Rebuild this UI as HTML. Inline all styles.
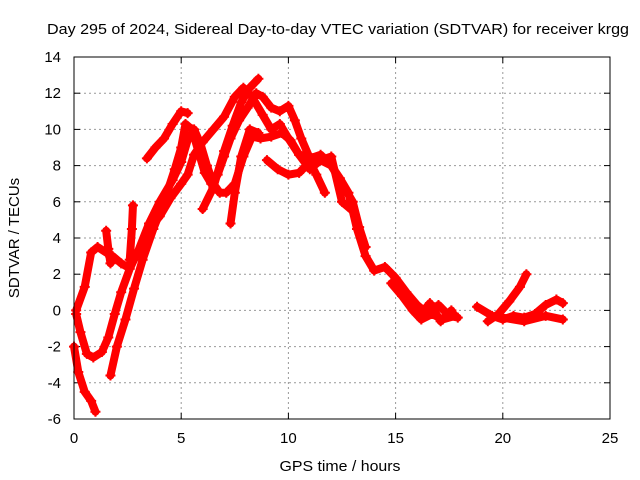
<!DOCTYPE html>
<html><head><meta charset="utf-8"><style>
body{margin:0;background:#fff}
svg{display:block;font-family:"Liberation Sans",sans-serif}
</style></head><body>
<svg id="chart" width="640" height="480">
<text x="338" y="34" font-size="15" text-anchor="middle" textLength="582" lengthAdjust="spacingAndGlyphs">Day 295 of 2024, Sidereal Day-to-day VTEC variation (SDTVAR) for receiver krgg</text>
<text x="340" y="471" font-size="15" text-anchor="middle" textLength="121" lengthAdjust="spacingAndGlyphs">GPS time / hours</text>
<text transform="translate(19,238) rotate(-90)" font-size="15" text-anchor="middle">SDTVAR / TECUs</text>
<g id="grid"></g><g id="axes"></g><g id="marks"></g>
<rect x="74" y="57" width="536" height="362" fill="none" stroke="#000" stroke-width="1"/>
</svg>
<script>
const xTicks=[0,5,10,15,20,25];
const yTicks=[-6,-4,-2,0,2,4,6,8,10,12,14];
const trackA=[[0.1,0],[0.5,1.3],[0.8,3.2],[1.1,3.5],[1.5,3.2],[1.8,3],[2.2,2.6],[2.5,2.4],[3.0,3.2],[3.5,4.5],[4.0,5.2],[4.5,6.2],[5.0,7.0],[5.3,7.5],[5.6,8.6],[6.0,9.3],[6.5,10],[7.0,10.7],[7.5,11.8],[7.9,12.3],[8.3,11.8],[8.8,10.8],[9.2,10],[9.6,10.3],[10.0,9.5],[10.5,8.6],[11.0,8.5],[11.5,8.3],[12.0,8],[12.4,7.3],[12.8,6.5],[13.2,4.5],[13.6,3],[14.0,2.2],[14.5,2.4],[15,1.8],[15.5,1.0],[16,0.3],[16.5,-0.2],[17,0.3],[17.5,-0.3],[17.9,-0.4]];
const trackB=[[0.1,-0.2],[0.3,-1.2],[0.6,-2.4],[0.9,-2.6],[1.3,-2.3],[1.6,-1.5],[1.9,-0.2],[2.2,1.0],[2.6,2.3],[3.0,3.3],[3.5,4.8],[4.0,6.0],[4.6,7.2],[5.0,8.2],[5.3,9.4],[5.6,10],[5.9,9.2],[6.2,8.0],[6.5,7.0],[6.8,6.5],[7.1,6.5],[7.5,7.0],[7.9,8.5],[8.3,9.6],[8.7,9.5],[9.2,9.6],[9.7,9.8],[10.1,9.4],[10.5,8.6],[11,7.8],[11.5,8.3],[12,8.5],[12.5,6],[13.0,5.5]];
const trackC=[[1.7,-3.6],[2.0,-2.0],[2.4,-0.5],[2.8,1.2],[3.2,2.8],[3.7,4.5],[4.2,6.0],[4.7,7.8],[5.0,9.0],[5.2,10.3],[5.5,10.0],[5.8,8.8],[6.1,7.6],[6.4,7.0],[6.7,7.5],[7.0,8.5],[7.3,9.5],[7.7,10.5],[8.1,11.2],[8.5,12.0],[8.8,11.8],[9.2,11.2],[9.6,11.0],[10.0,11.3],[10.3,10.5],[10.6,9.5],[11,8.4],[11.5,8.6],[12.0,8.0],[12.5,7.0],[13.0,6.0],[13.3,4.6],[13.6,3.5]];
const trackD=[[3.4,8.4],[3.8,9.0],[4.2,9.5],[4.6,10.3],[5.0,11.0],[5.3,10.9]];
const trackE=[[0.0,-2.0],[0.2,-3.4],[0.5,-4.5],[0.8,-5.0],[1.0,-5.6]];
const trackF=[[7.3,4.8],[7.5,6.5],[7.8,8.5],[8.2,10],[8.6,9.8]];
const trackF2=[[6.0,5.6],[6.5,6.8],[7.0,8.8],[7.4,10.2],[7.8,11.5],[8.2,12.3],[8.6,12.8]];
const trackG=[[9.0,8.3],[9.5,7.8],[10.0,7.5],[10.5,7.6],[11,8.2],[11.3,7.5],[11.7,6.5]];
const trackH=[[14.8,1.5],[15.3,0.8],[15.8,0],[16.2,-0.5],[16.7,-0.2],[17.2,-0.5],[17.8,-0.3]];
const trackI=[[18.8,0.2],[19.5,-0.3],[20,-0.5],[20.5,-0.3],[21.0,-0.4],[21.5,-0.2],[22,0.3],[22.5,0.6],[22.8,0.4]];
const trackJ=[[19.3,-0.6],[19.8,-0.2],[20.3,0.5],[20.8,1.3],[21.1,2]];
const trackK=[[20,-0.4],[21,-0.6],[22,-0.3],[22.8,-0.5]];
const trackL=[[1.5,4.4],[1.6,3.4],[1.7,2.6]];
const trackM=[[2.6,2.8],[2.7,4.5],[2.75,5.8]];
const trackN=[[15.2,1.2],[15.7,0.6],[16.1,-0.3],[16.6,0.4],[17.1,-0.6],[17.6,0.0]];
const tracks=[trackA,trackB,trackC,trackD,trackE,trackF,trackF2,trackG,trackH,trackI,trackJ,trackK,trackL,trackM,trackN];
const NS="http://www.w3.org/2000/svg";
const X=v=>74+v*536/25, Y=v=>419-(v+6)*362/20;
const grid=document.getElementById('grid'),axes=document.getElementById('axes'),marks=document.getElementById('marks');
function mk(t,a,p){const e=document.createElementNS(NS,t);for(const k in a)e.setAttribute(k,a[k]);p.appendChild(e);return e;}
xTicks.forEach(t=>{const x=X(t);
 if(t>0&&t<25){const g=mk('line',{x1:x,x2:x,y1:57,y2:419,stroke:'#999','stroke-dasharray':'2,3'},grid);
 
 }
 const l=mk('text',{x:x,y:443,'font-size':15,'text-anchor':'middle'},axes);l.textContent=t;
 
 
 mk('line',{x1:x,x2:x,y1:419,y2:413,stroke:'#000'},axes);mk('line',{x1:x,x2:x,y1:57,y2:63,stroke:'#000'},axes);});
yTicks.forEach(t=>{const y=Y(t);
 if(t>-6&&t<14){const g=mk('line',{x1:74,x2:610,y1:y,y2:y,stroke:'#999','stroke-dasharray':'2,3'},grid);
 
 }
 const l=mk('text',{x:61,y:y+5,'font-size':15,'text-anchor':'end'},axes);l.textContent=t;
 
 
 mk('line',{x1:74,x2:80,y1:y,y2:y,stroke:'#000'},axes);mk('line',{x1:610,x2:604,y1:y,y2:y,stroke:'#000'},axes);});
tracks.forEach((tr,i)=>{
 const pl=mk('polyline',{points:tr.map(p=>X(p[0])+','+Y(p[1])).join(' '),fill:'none',stroke:'#f00','stroke-width':8,'stroke-linejoin':'round','stroke-linecap':'round'},marks);
 
 
 tr.forEach(p=>{const x=X(p[0]),y=Y(p[1]);
  const m=mk('path',{d:`M${x-5},${y}H${x+5}M${x},${y-5}V${y+5}`,stroke:'#f00','stroke-width':2},marks);
  
  });
});
</script>
</body></html>
